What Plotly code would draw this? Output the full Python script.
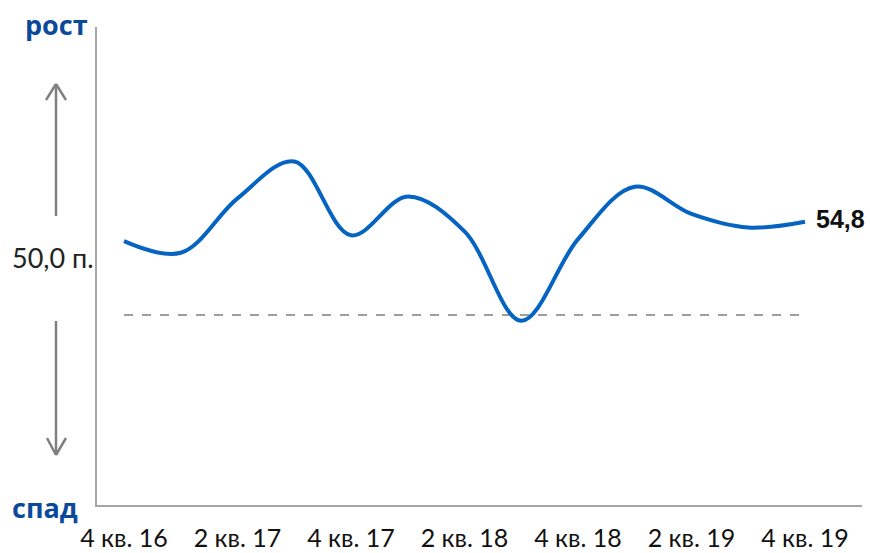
import plotly.graph_objects as go

# Quarterly index values
quarters = ["4 кв. 16", "1 кв. 17", "2 кв. 17", "3 кв. 17", "4 кв. 17",
            "1 кв. 18", "2 кв. 18", "3 кв. 18", "4 кв. 18",
            "1 кв. 19", "2 кв. 19", "3 кв. 19", "4 кв. 19"]
index_values = [53.8, 53.2, 56.0, 57.9, 54.1, 56.1, 54.3, 49.7, 53.9, 56.6, 55.2, 54.5, 54.8]
threshold = 50.0
tick_labels = ["4 кв. 16", "2 кв. 17", "4 кв. 17", "2 кв. 18", "4 кв. 18", "2 кв. 19", "4 кв. 19"]

W, H = 870, 553
ML, MR, MT, MB = 97, 8, 27, 48
PW, PH = W - ML - MR, H - MT - MB

def px(x):
    return (x - ML) / PW

def py(y):
    return (H - MB - y) / PH

xs = list(range(len(quarters)))
tick_pos = [quarters.index(t) for t in tick_labels]

fig = go.Figure()

fig.add_trace(go.Scatter(
    x=[xs[0], xs[-1]], y=[threshold, threshold], mode="lines",
    line=dict(color="#7f7f7f", width=1.5, dash="dash"), hoverinfo="skip"))

fig.add_trace(go.Scatter(
    x=xs, y=index_values, mode="lines",
    line=dict(color="#0563c1", width=4, shape="spline", smoothing=1.0),
    hoverinfo="skip"))

fig.add_annotation(
    x=xs[-1], y=index_values[-1], xref="x", yref="y",
    text="<b>" + f"{index_values[-1]:.1f}".replace(".", ",") + "</b>",
    showarrow=False, xanchor="left", xshift=9, yshift=3,
    font=dict(family="Liberation Sans", size=25, color="#111111"))

blue = "#0b4a9a"
fig.add_annotation(x=px(23), y=py(24), xref="paper", yref="paper", text="<b>рост</b>",
                   showarrow=False, xanchor="left", yanchor="middle",
                   font=dict(family="Open Sans", size=27, color=blue))
fig.add_annotation(x=px(10), y=py(508), xref="paper", yref="paper", text="<b>спад</b>",
                   showarrow=False, xanchor="left", yanchor="middle",
                   font=dict(family="Open Sans", size=27, color=blue))
fig.add_annotation(x=px(96), y=py(257), xref="paper", yref="paper", text="50,0 п.",
                   showarrow=False, xanchor="right", yanchor="middle",
                   font=dict(family="Lato", size=27, color="#222222"))

gray = "#808080"

def seg(x0, y0, x1, y1):
    return dict(type="line", xref="paper", yref="paper",
                x0=px(x0), y0=py(y0), x1=px(x1), y1=py(y1),
                line=dict(color=gray, width=2.5))

# up arrow
fig.add_shape(seg(56, 84, 56, 216))
fig.add_shape(seg(56, 84, 46, 100))
fig.add_shape(seg(56, 84, 66, 100))
# down arrow
fig.add_shape(seg(56, 321, 56, 455))
fig.add_shape(seg(56, 455, 47, 438))
fig.add_shape(seg(56, 455, 66, 438))

x0 = -(124 - ML) / 56.75
x1 = (W - MR - 124) / 56.75
ypu = 19.44
y_lo = threshold - (H - MB - 315) / ypu
y_hi = threshold + (315 - MT) / ypu

fig.update_layout(
    width=W, height=H, margin=dict(l=ML, r=MR, t=MT, b=MB),
    paper_bgcolor="white", plot_bgcolor="white", showlegend=False,
    xaxis=dict(range=[x0, x1], tickmode="array", tickvals=tick_pos, ticktext=tick_labels,
               showgrid=False, zeroline=False, showline=True, linecolor="#a6a6a6",
               linewidth=2, ticks="", ticklabelstandoff=10, automargin=False,
               tickfont=dict(family="Lato", size=25, color="#111111")),
    yaxis=dict(range=[y_lo, y_hi], showgrid=False, zeroline=False, showline=True,
               linecolor="#a6a6a6", linewidth=2, showticklabels=False, ticks="",
               automargin=False),
)

fig.write_html("out.html")
